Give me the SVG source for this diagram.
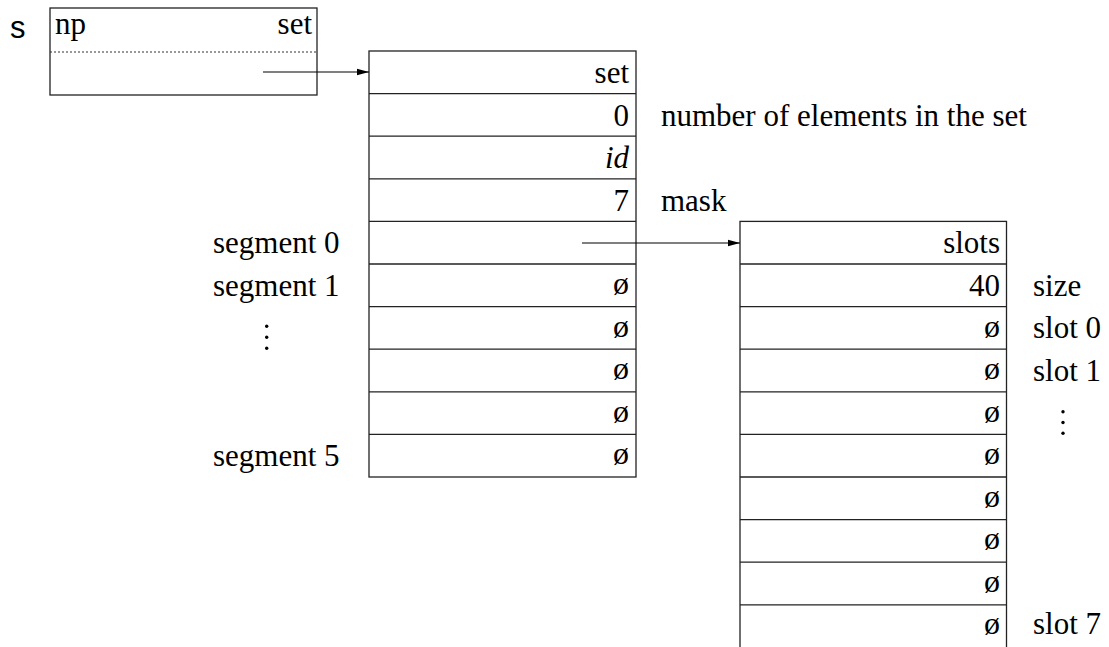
<svg xmlns="http://www.w3.org/2000/svg" width="1109" height="647" viewBox="0 0 1109 647">
<defs>
<marker id="arr" viewBox="0 0 12 8" refX="12" refY="4" markerWidth="12" markerHeight="8" markerUnits="userSpaceOnUse" orient="auto">
<path d="M0,0.8 L12,4 L0,7.2 z" fill="#000"/>
</marker>
<style>
.t{font-family:"Liberation Serif","Times New Roman",serif;font-size:31px;fill:#000}
.e{text-anchor:end}
.z{font-size:32px}
.box{fill:none;stroke:#222;stroke-width:1.3}
.row{stroke:#222;stroke-width:1.3}
.conn{stroke:#000;stroke-width:1.2;fill:none}
.dot{fill:#000}
</style>
</defs>
<rect width="1109" height="647" fill="#fff"/>

<g id="s">
<text x="10" y="38" style="font-family:'Liberation Sans',Arial,sans-serif;font-size:31px;fill:#000">s</text>
<rect class="box" x="50" y="8" width="267" height="87"/>
<line x1="50" y1="52" x2="317" y2="52" stroke="#333" stroke-width="1.2" stroke-dasharray="2,2"/>
<text class="t" x="55" y="34">np</text>
<text class="t e" x="312" y="34">set</text>
</g>

<g id="setbox">
<rect class="box" x="369" y="51" width="267" height="426"/>
<line class="row" x1="369" y1="93.6" x2="636" y2="93.6"/>
<line class="row" x1="369" y1="136.2" x2="636" y2="136.2"/>
<line class="row" x1="369" y1="178.8" x2="636" y2="178.8"/>
<line class="row" x1="369" y1="221.4" x2="636" y2="221.4"/>
<line class="row" x1="369" y1="264" x2="636" y2="264"/>
<line class="row" x1="369" y1="306.6" x2="636" y2="306.6"/>
<line class="row" x1="369" y1="349.2" x2="636" y2="349.2"/>
<line class="row" x1="369" y1="391.8" x2="636" y2="391.8"/>
<line class="row" x1="369" y1="434.4" x2="636" y2="434.4"/>
<text class="t e" x="629" y="82.5">set</text>
<text class="t e" x="629" y="125.5">0</text>
<text class="t e" x="629" y="168" font-style="italic">id</text>
<text class="t e" x="629" y="210.5">7</text>
<text class="t e z" x="629" y="294">ø</text>
<text class="t e z" x="629" y="336.5">ø</text>
<text class="t e z" x="629" y="379">ø</text>
<text class="t e z" x="629" y="421.5">ø</text>
<text class="t e z" x="629" y="464">ø</text>
<text class="t" x="661" y="125.5">number of elements in the set</text>
<text class="t" x="661" y="210.5">mask</text>
<text class="t" x="213" y="253">segment 0</text>
<text class="t" x="213" y="295.5">segment 1</text>
<circle class="dot" cx="266.7" cy="326.3" r="1.7"/>
<circle class="dot" cx="266.7" cy="337.3" r="1.7"/>
<circle class="dot" cx="266.7" cy="348.3" r="1.7"/>
<text class="t" x="213" y="465.5">segment 5</text>
</g>

<g id="slotsbox">
<rect class="box" x="740" y="221.4" width="266.5" height="430"/>
<line class="row" x1="740" y1="264" x2="1006.5" y2="264"/>
<line class="row" x1="740" y1="306.6" x2="1006.5" y2="306.6"/>
<line class="row" x1="740" y1="349.2" x2="1006.5" y2="349.2"/>
<line class="row" x1="740" y1="391.8" x2="1006.5" y2="391.8"/>
<line class="row" x1="740" y1="434.4" x2="1006.5" y2="434.4"/>
<line class="row" x1="740" y1="477" x2="1006.5" y2="477"/>
<line class="row" x1="740" y1="519.6" x2="1006.5" y2="519.6"/>
<line class="row" x1="740" y1="562.2" x2="1006.5" y2="562.2"/>
<line class="row" x1="740" y1="604.8" x2="1006.5" y2="604.8"/>
<text class="t e" x="1000" y="253">slots</text>
<text class="t e" x="1000" y="295.5">40</text>
<text class="t e z" x="1000" y="336.5">ø</text>
<text class="t e z" x="1000" y="379">ø</text>
<text class="t e z" x="1000" y="421.5">ø</text>
<text class="t e z" x="1000" y="464">ø</text>
<text class="t e z" x="1000" y="506.5">ø</text>
<text class="t e z" x="1000" y="549">ø</text>
<text class="t e z" x="1000" y="591.5">ø</text>
<text class="t e z" x="1000" y="634">ø</text>
<text class="t" x="1033" y="295.5">size</text>
<text class="t" x="1033" y="338">slot 0</text>
<text class="t" x="1033" y="380.5">slot 1</text>
<circle class="dot" cx="1063" cy="411.7" r="1.7"/>
<circle class="dot" cx="1063" cy="422.5" r="1.7"/>
<circle class="dot" cx="1063" cy="433.3" r="1.7"/>
<text class="t" x="1033" y="634">slot 7</text>
</g>

<g id="connectors">
<line class="conn" x1="263" y1="72" x2="369" y2="72" marker-end="url(#arr)"/>
<line class="conn" x1="582" y1="243" x2="740" y2="243" marker-end="url(#arr)"/>
</g>
</svg>
